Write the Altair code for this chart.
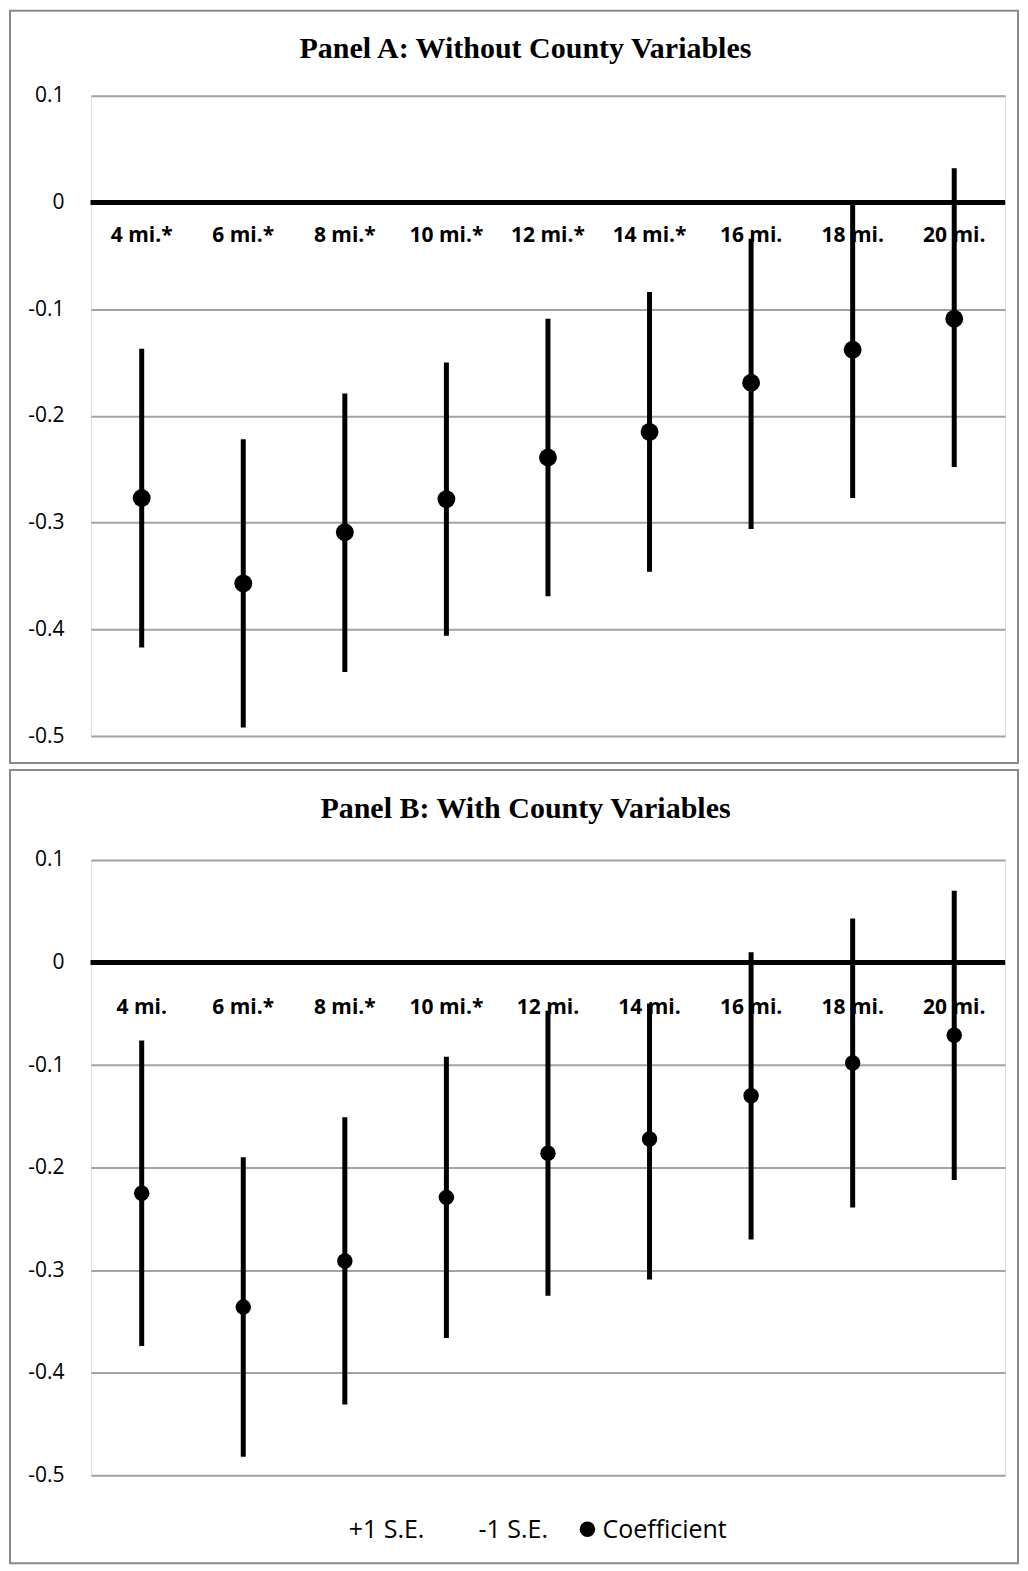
import altair as alt
import pandas as pd

categories = ["4 mi.", "6 mi.", "8 mi.", "10 mi.", "12 mi.", "14 mi.", "16 mi.", "18 mi.", "20 mi."]

labels_a = ["4 mi.*", "6 mi.*", "8 mi.*", "10 mi.*", "12 mi.*", "14 mi.*", "16 mi.", "18 mi.", "20 mi."]
coef_a = [-0.277, -0.357, -0.309, -0.278, -0.239, -0.215, -0.169, -0.138, -0.109]
plus_a = [-0.137, -0.222, -0.179, -0.150, -0.109, -0.084, -0.034, 0.000, 0.032]
minus_a = [-0.417, -0.492, -0.440, -0.406, -0.369, -0.346, -0.306, -0.277, -0.248]

labels_b = ["4 mi.", "6 mi.*", "8 mi.*", "10 mi.*", "12 mi.", "14 mi.", "16 mi.", "18 mi.", "20 mi."]
coef_b = [-0.225, -0.336, -0.291, -0.229, -0.186, -0.172, -0.130, -0.098, -0.071]
plus_b = [-0.076, -0.190, -0.151, -0.092, -0.047, -0.040, 0.010, 0.043, 0.070]
minus_b = [-0.374, -0.482, -0.431, -0.366, -0.325, -0.309, -0.270, -0.239, -0.212]

title_a = "Panel A: Without County Variables"
title_b = "Panel B: With County Variables"
legend_items = ["+1 S.E.", "-1 S.E.", "Coefficient"]
y_ticks = [0.1, 0.0, -0.1, -0.2, -0.3, -0.4, -0.5]

PLOT_W = 915
LABEL_FONT = "Open Sans"


def panel(labels, coef, plus, minus, title, height, frame_top, frame_bottom,
          title_y, label_dy, point_size, with_legend):
    df = pd.DataFrame({
        "cat": categories, "label": labels, "coef": coef,
        "plus": plus, "minus": minus,
    })
    yscale = alt.Scale(domain=[-0.5, 0.1], nice=False, zero=False)
    yax = alt.Axis(values=y_ticks, title=None, domain=False, ticks=False, tickSize=0,
                   labelPadding=27, labelFont=LABEL_FONT, labelFontSize=21,
                   labelColor="black", grid=True, gridColor="#a3a3a3", gridWidth=2,
                   labelExpr="replace(format(datum.value, '.1~f'), '\u2212', '-')")
    x = alt.X("cat:N", sort=categories, axis=None,
              scale=alt.Scale(paddingInner=0, paddingOuter=0))

    deco = alt.Chart(pd.DataFrame({"title": [title]}))
    frame = deco.mark_rect(fillOpacity=0, stroke="#8a8a8a", strokeWidth=2).encode(
        x=alt.value(-81), x2=alt.value(928),
        y=alt.value(frame_top), y2=alt.value(frame_bottom))
    ttl = deco.mark_text(font="Liberation Serif", fontWeight="bold", fontSize=30,
                         align="center", baseline="alphabetic", color="black").encode(
        x=alt.value(435), y=alt.value(title_y), text="title:N")

    base = alt.Chart(df)
    cat_text = base.mark_text(font=LABEL_FONT, fontWeight="bold", fontSize=21,
                              baseline="alphabetic", dy=label_dy, color="black").encode(
        x=x, y=alt.Y(datum=0, scale=yscale, axis=yax), text="label:N")
    zero = base.mark_rule(color="black", strokeWidth=4.5).encode(
        y=alt.Y(datum=0, scale=yscale, axis=yax))
    bars = base.mark_rule(color="black", strokeWidth=5).encode(
        x=x, y=alt.Y("minus:Q", scale=yscale, axis=yax), y2="plus:Q")
    pts = base.mark_point(filled=True, color="black", size=point_size,
                          opacity=1).encode(
        x=x, y=alt.Y("coef:Q", scale=yscale, axis=yax))

    layers = [frame, ttl, cat_text, zero, bars, pts]

    if with_legend:
        leg_y = 679
        for i, lx in enumerate([258, 388, 512]):
            ld = alt.Chart(pd.DataFrame({"item": [legend_items[i]]}))
            layers.append(ld.mark_text(font=LABEL_FONT, fontSize=25, align="left",
                                       baseline="alphabetic", color="black").encode(
                x=alt.value(lx), y=alt.value(leg_y), text="item:N"))
        sym = alt.Chart(pd.DataFrame({"item": [legend_items[2]]}))
        layers.append(sym.mark_point(filled=True, color="black", size=point_size,
                                     opacity=1).encode(
            x=alt.value(497), y=alt.value(leg_y - 9)))

    return alt.layer(*layers).properties(width=PLOT_W, height=height)


panel_a = panel(labels_a, coef_a, plus_a, minus_a, title_a, 641, -85, 668, -38, 40, 320, False)
panel_b = panel(labels_b, coef_b, plus_b, minus_b, title_b, 616, -90, 704, -42, 52, 240, True)

chart = alt.vconcat(panel_a, panel_b, spacing=3).properties(padding=0).configure_view(
    stroke="transparent", strokeWidth=0).configure(background="white")

chart.save("out.html", embed_options={"renderer": "svg", "actions": False})
